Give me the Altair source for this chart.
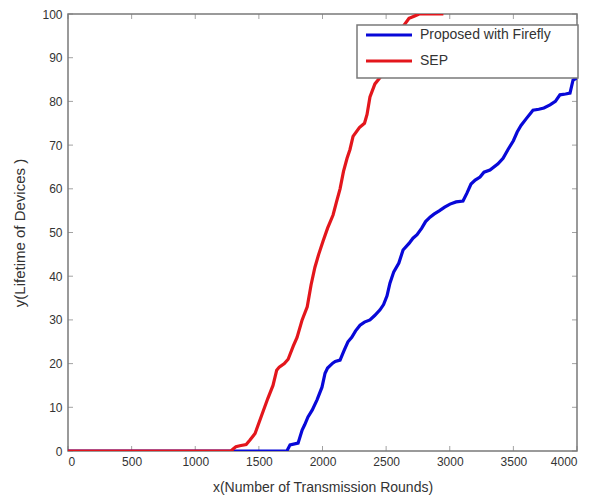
import altair as alt
import pandas as pd

# SEP (red)
sep_x = [0, 1280, 1300, 1320, 1350, 1400, 1430, 1470, 1520, 1570, 1611, 1640, 1660, 1700,
         1730, 1770, 1800, 1840, 1880, 1910, 1940, 1970, 2004, 2040, 2083, 2110, 2138, 2165,
         2193, 2216, 2240, 2290, 2330, 2350, 2373, 2412, 2467, 2520, 2580, 2630, 2680, 2720,
         2760, 2950]
sep_y = [0, 0, 0.5, 1, 1.2, 1.5, 2.5, 4, 8, 12, 15, 18.5, 19.2, 20, 21, 24, 26, 30, 33, 38,
         42, 45, 48, 51, 54, 57, 60, 64, 67, 69, 72, 74, 75, 77, 81, 84, 86, 90, 94, 97, 99,
         99.5, 100, 100]

# Proposed with Firefly (blue)
ff_x = [0, 1720, 1745, 1808, 1840, 1860, 1886, 1920, 1957, 1996, 2020, 2040, 2080, 2100,
        2138, 2170, 2200, 2230, 2260, 2295, 2330, 2373, 2410, 2452, 2480, 2507, 2530, 2560,
        2600, 2633, 2680, 2711, 2743, 2780, 2810, 2845, 2876, 2920, 2960, 3002, 3050, 3104,
        3135, 3167, 3200, 3238, 3269, 3316, 3379, 3419, 3458, 3500, 3530, 3560, 3600, 3654,
        3700, 3740, 3788, 3830, 3866, 3910, 3945, 3969, 4000]
ff_y = [0, 0, 1.4, 1.8, 4.8, 6, 7.8, 9.4, 11.7, 14.6, 17.8, 19, 20.1, 20.5, 20.8, 23, 25,
        26, 27.5, 28.8, 29.5, 30, 31, 32.3, 33.5, 35.5, 38.4, 41, 43, 46, 47.5, 48.7, 49.5,
        51, 52.5, 53.5, 54.2, 55, 55.8, 56.5, 57, 57.2, 59, 61.1, 62, 62.7, 63.8, 64.3, 65.7,
        67, 69, 71, 73, 74.5, 76, 78, 78.2, 78.5, 79.2, 80, 81.5, 81.7, 81.9, 84.9, 85.4]

series_names = ["Proposed with Firefly", "SEP"]
series_colors = ["#0808d8", "#e3161c"]

x_ticks = [0, 500, 1000, 1500, 2000, 2500, 3000, 3500, 4000]
y_ticks = [0, 10, 20, 30, 40, 50, 60, 70, 80, 90, 100]

df = pd.concat([
    pd.DataFrame({"x": ff_x, "y": ff_y, "series": series_names[0], "order": range(len(ff_x))}),
    pd.DataFrame({"x": sep_x, "y": sep_y, "series": series_names[1], "order": range(len(sep_x))}),
])

W, H = 509, 437
FONT = "Liberation Sans"
GRAY = "#7a7a7a"

xscale = alt.Scale(domain=[0, 4000], nice=False)
yscale = alt.Scale(domain=[0, 100], nice=False)
cscale = alt.Scale(domain=series_names, range=series_colors)

lines = alt.Chart(df).mark_line(strokeWidth=3.2, clip=True).encode(
    x=alt.X("x:Q", scale=xscale,
            axis=alt.Axis(values=x_ticks, format="d", title="x(Number of Transmission Rounds)",
                          tickSize=0, labelPadding=5, grid=False, domain=False,
                          titlePadding=13, titleFontSize=14)),
    y=alt.Y("y:Q", scale=yscale,
            axis=alt.Axis(values=y_ticks, title="y(Lifetime of Devices )",
                          tickSize=0, labelPadding=6, grid=False, domain=False,
                          titlePadding=14, titleFontSize=15)),
    color=alt.Color("series:N", scale=cscale, legend=None),
    order="order:Q",
)

xt = pd.DataFrame({"x": x_ticks})
yt = pd.DataFrame({"y": y_ticks})

ticks_bottom = alt.Chart(xt).mark_tick(orient="vertical", size=5, thickness=1, color=GRAY, yOffset=-2.5).encode(
    x=alt.X("x:Q", scale=xscale), y=alt.value(H))
ticks_top = alt.Chart(xt).mark_tick(orient="vertical", size=5, thickness=1, color=GRAY, yOffset=2.5).encode(
    x=alt.X("x:Q", scale=xscale), y=alt.value(0))
ticks_left = alt.Chart(yt).mark_tick(orient="horizontal", size=5, thickness=1, color=GRAY, xOffset=2.5).encode(
    y=alt.Y("y:Q", scale=yscale), x=alt.value(0))
ticks_right = alt.Chart(yt).mark_tick(orient="horizontal", size=5, thickness=1, color=GRAY, xOffset=-2.5).encode(
    y=alt.Y("y:Q", scale=yscale), x=alt.value(W))

# manual MATLAB-style legend box
leg_df = pd.DataFrame({"series": series_names})
leg_box = alt.Chart(pd.DataFrame({"a": [0]})).mark_rect(
    fill="white", stroke=GRAY, strokeWidth=1.5).encode(
    x=alt.value(289), x2=alt.value(510), y=alt.value(11), y2=alt.value(64))

leg_layers = []
for name, ypx in zip(series_names, [21, 47]):
    base = alt.Chart(leg_df).transform_filter(alt.datum.series == name)
    leg_layers.append(base.mark_rule(strokeWidth=3).encode(
        x=alt.value(298), x2=alt.value(344), y=alt.value(ypx),
        color=alt.Color("series:N", scale=cscale, legend=None)))
    leg_layers.append(base.mark_text(align="left", baseline="middle", font=FONT,
                                     fontSize=14, color="#333").encode(
        x=alt.value(352), y=alt.value(ypx), text="series:N"))

chart = alt.layer(ticks_bottom, ticks_top, ticks_left, ticks_right, lines,
                  leg_box, *leg_layers).properties(
    width=W, height=H,
    autosize=alt.AutoSizeParams(type="none"),
    padding={"left": 60, "top": 6, "right": 17, "bottom": 47},
    background="white",
).configure_view(
    stroke=GRAY, strokeWidth=1.5
).configure_axis(
    labelFont=FONT, labelFontSize=12, labelColor="#333",
    titleFont=FONT, titleFontWeight="normal", titleColor="#333",
)

chart.save("out.html", embed_options={"renderer": "svg", "actions": False})
